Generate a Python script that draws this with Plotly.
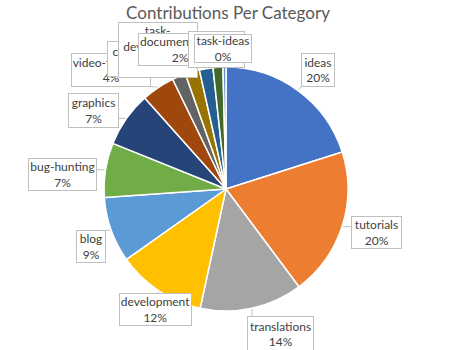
import math
import plotly.graph_objects as go

W, H = 452, 350

categories = ["ideas", "tutorials", "translations", "development", "blog",
              "bug-hunting", "graphics", "video-tutorials", "copywriting",
              "task-development", "documentation", "analysis", "task-ideas"]
values = [20.1, 19.7, 13.6, 11.8, 8.7, 7.2, 7.3, 4.4, 1.8, 1.9, 1.8, 1.3, 0.4]
colors = ["#4472C4", "#ED7D31", "#A5A5A5", "#FFC000", "#5B9BD5", "#70AD47",
          "#264478", "#9E480E", "#636363", "#997300", "#255E91", "#43682B", "#698ED0"]
label_text = ["ideas", "tutorials", "translations", "development", "blog",
              "bug-hunting", "graphics", "video-tutorials", "copywriting",
              "task-<br>development", "documentation", "analysis", "task-ideas"]

# label box layout (pixels: left, top, right, bottom)
boxes = [(301, 53, 335, 87), (351, 216, 402, 249), (247, 316, 314, 352),
         (119, 293, 192, 326), (76, 230, 106, 263), (28, 158, 97, 191),
         (68, 93, 119, 128), (71, 53, 151, 87), (107, 41, 180, 77),
         (118, 22, 198, 78), (138, 33, 222, 66), (188, 31, 245, 68),
         (194, 34, 252, 63)]
valigns = ["middle"] * 9 + ["top"] + ["middle"] * 3

cx, cy, R = 226, 189, 122

fig = go.Figure()
fig.add_trace(go.Pie(
    labels=categories, values=values, sort=False, direction="clockwise",
    rotation=0, textinfo="none", hoverinfo="label+percent",
    marker=dict(colors=colors, line=dict(color="white", width=1.5)),
    domain=dict(x=[(cx - R) / W, (cx + R) / W], y=[(H - cy - R) / H, (H - cy + R) / H]),
    showlegend=False,
))

total = sum(values)
cum = 0
shapes = []
annotations = []
for i, v in enumerate(values):
    mid = (cum + v / 2) / total * 2 * math.pi
    cum += v
    tx = cx + (R + 1) * math.sin(mid)
    ty = cy - (R + 1) * math.cos(mid)
    x0, y0, x1, y1 = boxes[i]
    px = min(max(tx, x0), x1)
    py = min(max(ty, y0), y1)
    shapes.append(dict(type="line", xref="paper", yref="paper",
                       x0=px / W, y0=1 - py / H, x1=tx / W, y1=1 - ty / H,
                       line=dict(color="#BFBFBF", width=1)))
    pct = round(v / total * 100)
    annotations.append(dict(
        xref="paper", yref="paper", x=x0 / W, y=1 - y0 / H,
        xanchor="left", yanchor="top", showarrow=False,
        text=f"{label_text[i]}<br>{pct}%", align="center", valign=valigns[i],
        width=x1 - x0 - 2, height=y1 - y0 - 2, borderpad=0,
        bgcolor="white", bordercolor="#BFBFBF", borderwidth=1,
        font=dict(family="Lato", size=12, color="#404040"),
    ))

fig.update_layout(
    width=W, height=H, margin=dict(l=0, r=0, t=0, b=0),
    paper_bgcolor="white", plot_bgcolor="white",
    title=dict(text="Contributions Per Category", x=228 / W, xanchor="center",
               xref="container", yref="container",
               y=1 - 13 / H, yanchor="middle",
               font=dict(family="Lato", size=17, color="#595959")),
    shapes=shapes, annotations=annotations,
)

fig.write_html("out.html")
